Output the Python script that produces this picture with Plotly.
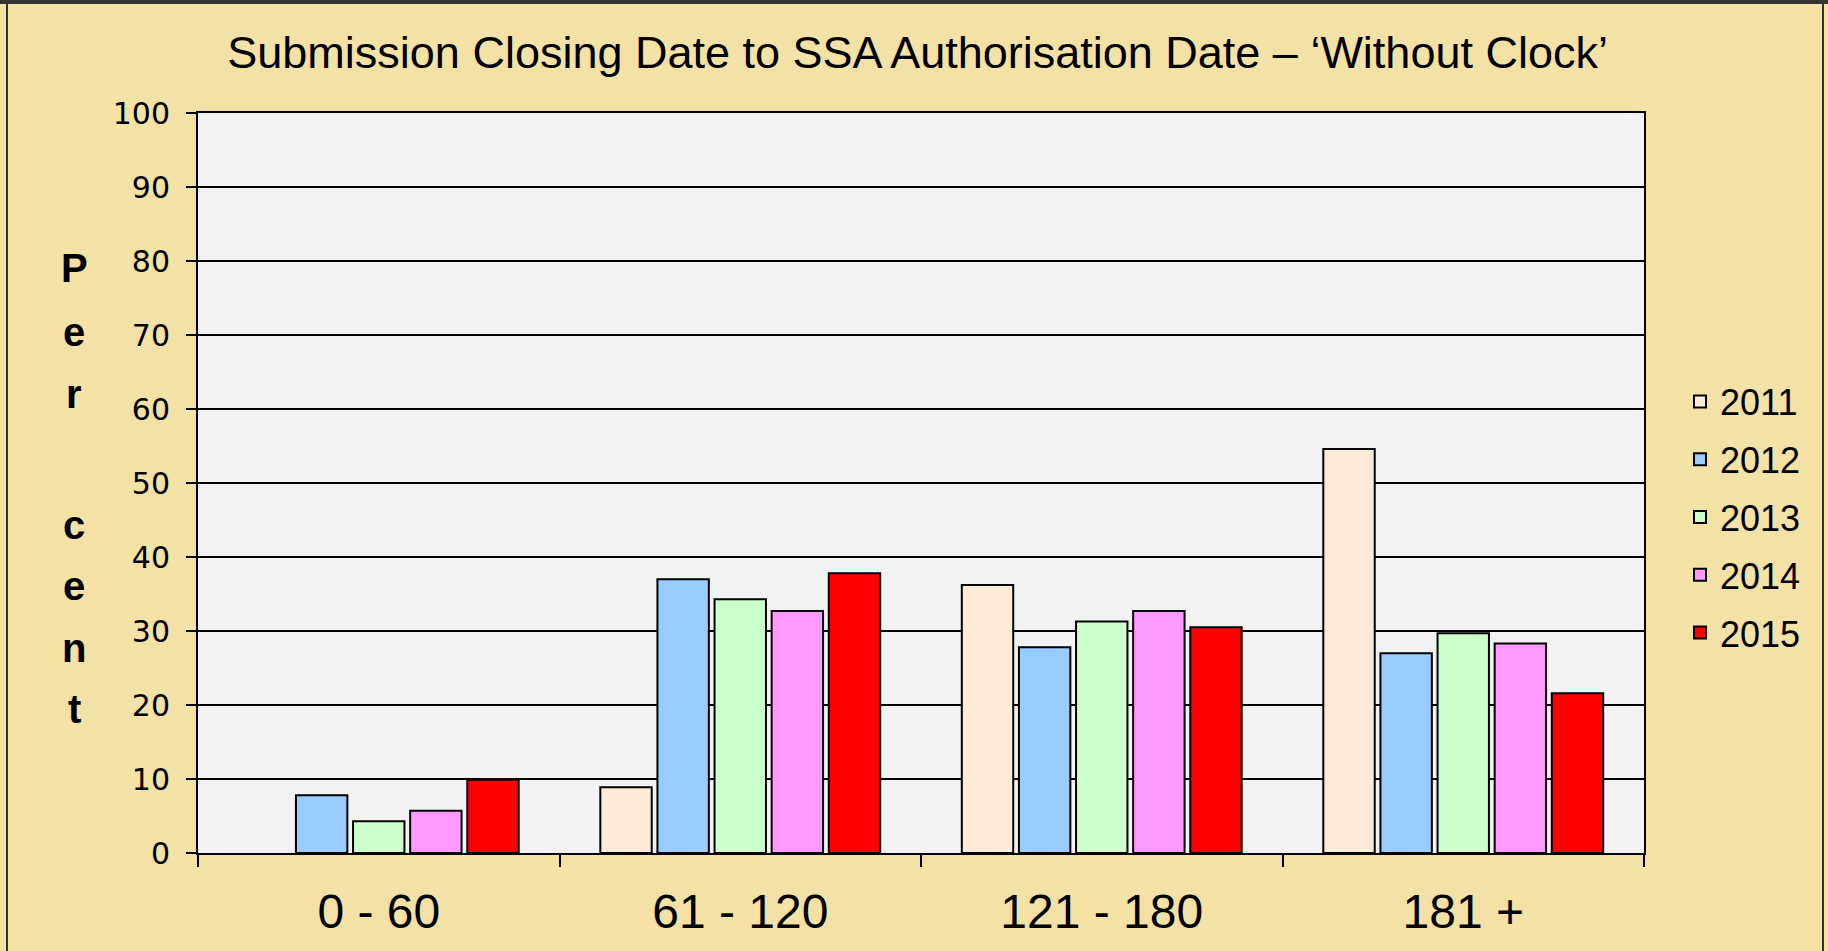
import plotly.graph_objects as go

categories = ["0 - 60", "61 - 120", "121 - 180", "181 +"]
years = ["2011", "2012", "2013", "2014", "2015"]
v2011 = [None, 8.9, 36.2, 54.6]
v2012 = [7.8, 37.0, 27.8, 27.0]
v2013 = [4.3, 34.3, 31.3, 29.7]
v2014 = [5.7, 32.7, 32.7, 28.3]
v2015 = [9.9, 37.8, 30.5, 21.6]
series = [v2011, v2012, v2013, v2014, v2015]
colors = ["#FBEBD7", "#99CCFF", "#CCFFCC", "#FF99FF", "#FF0000"]
ytick_vals = [0, 10, 20, 30, 40, 50, 60, 70, 80, 90, 100]

fig = go.Figure()
for name, vals, col in zip(years, series, colors):
    fig.add_trace(go.Bar(
        x=categories, y=vals, name=name, legendgroup=name,
        marker=dict(color=col, line=dict(color="black", width=2)),
    ))

W, H = 1828, 951
L, R, T, B = 198, 1644, 113, 853

def px(x):
    return (x - L) / (R - L)

def py(y):
    return (B - y) / (B - T)

annotations = []
letters = [("P", 268), ("e", 332), ("r", 394), ("c", 525), ("e", 586), ("n", 648), ("t", 709)]
for ch, yy in letters:
    annotations.append(dict(
        text=ch, x=px(74), y=py(yy), xref="paper", yref="paper",
        showarrow=False, xanchor="center", yanchor="middle",
        font=dict(family="Liberation Sans, Arial, sans-serif", size=40, color="black", weight="bold"),
    ))

shapes = [
    dict(type="line", xref="paper", yref="paper", x0=px(0), x1=px(W), y0=py(2), y1=py(2),
         line=dict(color="#333333", width=4), layer="above"),
    dict(type="line", xref="paper", yref="paper", x0=px(7), x1=px(7), y0=py(2), y1=py(W),
         line=dict(color="#333333", width=2), layer="above"),
    dict(type="line", xref="paper", yref="paper", x0=px(1823), x1=px(1823), y0=py(2), y1=py(W),
         line=dict(color="#333333", width=2), layer="above"),
]

fig.update_layout(
    width=W, height=H,
    margin=dict(l=L, r=W - R, t=T, b=H - B, autoexpand=False),
    paper_bgcolor="#F4E1A6",
    plot_bgcolor="#F2F2F2",
    barmode="group", bargap=0.21, bargroupgap=0.1,
    title=dict(
        text="Submission Closing Date to SSA Authorisation Date \u2013 \u2018Without Clock\u2019",
        x=0.502, xref="container", xanchor="center",
        y=1 - 52 / H, yref="container", yanchor="middle",
        font=dict(family="Liberation Sans Narrow, Arial Narrow, sans-serif", size=45, color="black"),
    ),
    font=dict(family="Liberation Sans, Arial, sans-serif", color="black"),
    xaxis=dict(
        showline=True, linecolor="black", linewidth=2, mirror=True,
        ticks="outside", tickson="boundaries", ticklen=12, tickwidth=2, tickcolor="black",
        tickfont=dict(family="Liberation Sans, Arial, sans-serif", size=48, color="black"),
        ticklabelstandoff=15,
        showgrid=False,
    ),
    yaxis=dict(
        range=[0, 100], tickvals=ytick_vals,
        showline=True, linecolor="black", linewidth=2, mirror=True,
        ticks="outside", ticklen=10, tickwidth=2, tickcolor="black",
        tickfont=dict(family="DejaVu Sans, sans-serif", size=30, color="black"),
        ticklabelstandoff=10,
        showgrid=True, gridcolor="black", gridwidth=2,
        zeroline=False,
    ),
    legend=dict(
        x=px(1680), y=py(517), xanchor="left", yanchor="middle",
        font=dict(family="Liberation Sans, Arial, sans-serif", size=36, color="black"),
        bgcolor="rgba(0,0,0,0)", tracegroupgap=8, itemwidth=30,
    ),
    annotations=annotations,
    shapes=shapes,
)

fig.write_html(
    "out.html",
    config={"displayModeBar": False},
    post_script="document.body.style.margin='0px';document.documentElement.style.overflow='hidden';document.body.style.overflow='hidden';",
)
